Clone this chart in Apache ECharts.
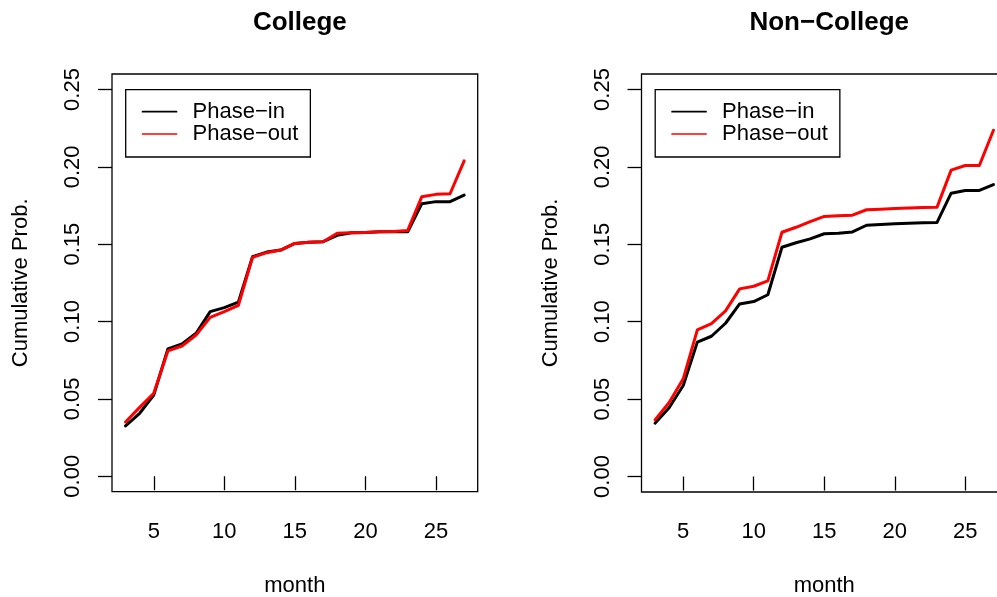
<!DOCTYPE html>
<html>
<head>
<meta charset="utf-8">
<style>
  html, body { margin: 0; padding: 0; background: #fff; overflow: hidden; }
  #chart { width: 997px; height: 597px; }
</style>
<script src="https://cdn.jsdelivr.net/npm/echarts@6/dist/echarts.min.js"></script>
</head>
<body>
<div id="chart"></div>
<script>
// Months observed
const months = [3, 4, 5, 6, 7, 8, 9, 10, 11, 12, 13, 14, 15, 16, 17, 18, 19, 20, 21, 22, 23, 24, 25, 26, 27];

// College: cumulative probability by month
const collegeIn  = [0.0325, 0.0407, 0.0525, 0.0823, 0.0855, 0.0924, 0.1064, 0.1090, 0.1126, 0.1419, 0.1449, 0.1462, 0.1505, 0.1512, 0.1516, 0.1557, 0.1574, 0.1576, 0.1580, 0.1580, 0.1580, 0.1762, 0.1775, 0.1775, 0.1817];
const collegeOut = [0.0351, 0.0445, 0.0536, 0.0810, 0.0842, 0.0913, 0.1027, 0.1064, 0.1105, 0.1415, 0.1445, 0.1462, 0.1505, 0.1512, 0.1516, 0.1570, 0.1574, 0.1576, 0.1580, 0.1582, 0.1589, 0.1807, 0.1822, 0.1826, 0.2039];

// Non-College: cumulative probability by month
const nonCollegeIn  = [0.0344, 0.0444, 0.0588, 0.0868, 0.0906, 0.0990, 0.1115, 0.1130, 0.1174, 0.1481, 0.1510, 0.1535, 0.1568, 0.1572, 0.1580, 0.1623, 0.1628, 0.1632, 0.1636, 0.1639, 0.1641, 0.1830, 0.1848, 0.1848, 0.1886];
const nonCollegeOut = [0.0366, 0.0478, 0.0631, 0.0947, 0.0988, 0.1070, 0.1212, 0.1229, 0.1264, 0.1578, 0.1610, 0.1647, 0.1680, 0.1684, 0.1688, 0.1723, 0.1727, 0.1731, 0.1735, 0.1738, 0.1740, 0.1979, 0.2009, 0.2009, 0.2237];

// Axis ticks and labels
const xTicks = [5, 10, 15, 20, 25];
const yTicks = [0, 0.05, 0.10, 0.15, 0.20, 0.25];
const yTickLabels = ['0.00', '0.05', '0.10', '0.15', '0.20', '0.25'];

const panelTitles = ['College', 'Non\u2212College'];
const seriesNames = ['Phase\u2212in', 'Phase\u2212out'];
const seriesColors = ['#000000', '#ff0000'];
const xName = 'month';
const yName = 'Cumulative Prob.';

const FONT = '"Liberation Sans", Arial, Helvetica, sans-serif';

const grids = [
  { left: 112, top: 74, width: 365.7, height: 417.7 },
  { left: 641.5, top: 74, width: 365.5, height: 418 }
];

function pairs(ys) { return months.map((m, i) => [m, ys[i]]); }

const xAxes = grids.map((g, i) => ({
  type: 'value', gridIndex: i, min: 2.04, max: 27.96,
  axisLine: { show: false },
  splitLine: { show: false },
  axisTick: { show: true, inside: false, length: 14, customValues: xTicks, lineStyle: { color: '#000', width: 1.3 } },
  axisLabel: { show: true, customValues: xTicks, margin: 29, color: '#000', fontSize: 22, fontFamily: FONT },
  name: xName, nameLocation: 'middle', nameGap: 83,
  nameTextStyle: { color: '#000', fontSize: 22, fontFamily: FONT }
}));

const yAxes = grids.map((g, i) => ({
  type: 'value', gridIndex: i, min: -0.01, max: 0.26,
  axisLine: { show: false },
  splitLine: { show: false },
  axisTick: { show: true, inside: false, length: 14, customValues: yTicks, lineStyle: { color: '#000', width: 1.3 } },
  axisLabel: {
    show: true, customValues: yTicks, rotate: 90, margin: 28, color: '#000', fontSize: 22, fontFamily: FONT,
    formatter: v => yTickLabels[yTicks.findIndex(t => Math.abs(t - v) < 1e-9)] ?? ''
  },
  name: yName, nameLocation: 'middle', nameRotate: 90, nameGap: 80,
  nameTextStyle: { color: '#000', fontSize: 22, fontFamily: FONT }
}));

const panels = [[collegeIn, collegeOut], [nonCollegeIn, nonCollegeOut]];
const series = [];
panels.forEach((p, gi) => {
  p.forEach((ys, si) => {
    series.push({
      type: 'line', name: seriesNames[si], xAxisIndex: gi, yAxisIndex: gi,
      data: pairs(ys), symbol: 'none', showSymbol: false, silent: true,
      lineStyle: { color: seriesColors[si], width: 3, cap: 'round', join: 'round' },
      itemStyle: { color: seriesColors[si] },
      z: 2 + si
    });
  });
});

// Legend keys are plain line segments (no point symbol)
const legends = grids.map(g => ({
  data: seriesNames, orient: 'vertical',
  left: g.left + 13.7, top: 89.7,
  itemWidth: 34, itemHeight: 22, itemGap: 0.3,
  padding: [11, 12, 12, 16],
  borderColor: '#000', borderWidth: 1.3, backgroundColor: '#fff',
  lineStyle: { width: 1.7 },
  itemStyle: { color: 'transparent', borderWidth: 0, opacity: 0 },
  selectedMode: false,
  textStyle: { color: '#000', fontSize: 22, fontFamily: FONT, padding: [0, 0, 0, 11] }
}));

const titles = grids.map((g, i) => ({
  text: panelTitles[i], left: g.left + g.width / 2, top: 5, textAlign: 'center',
  textStyle: { color: '#000', fontSize: 26, fontWeight: 'bold', fontFamily: FONT }
}));

const chart = echarts.init(document.getElementById('chart'), null, { renderer: 'canvas' });
chart.setOption({
  animation: false,
  backgroundColor: '#fff',
  title: titles,
  legend: legends,
  grid: grids.map(g => Object.assign({
    show: true, borderColor: '#000', borderWidth: 1.3, backgroundColor: 'transparent',
    containLabel: false, outerBoundsMode: 'none'
  }, g)),
  xAxis: xAxes,
  yAxis: yAxes,
  series: series
});
</script>
</body>
</html>
